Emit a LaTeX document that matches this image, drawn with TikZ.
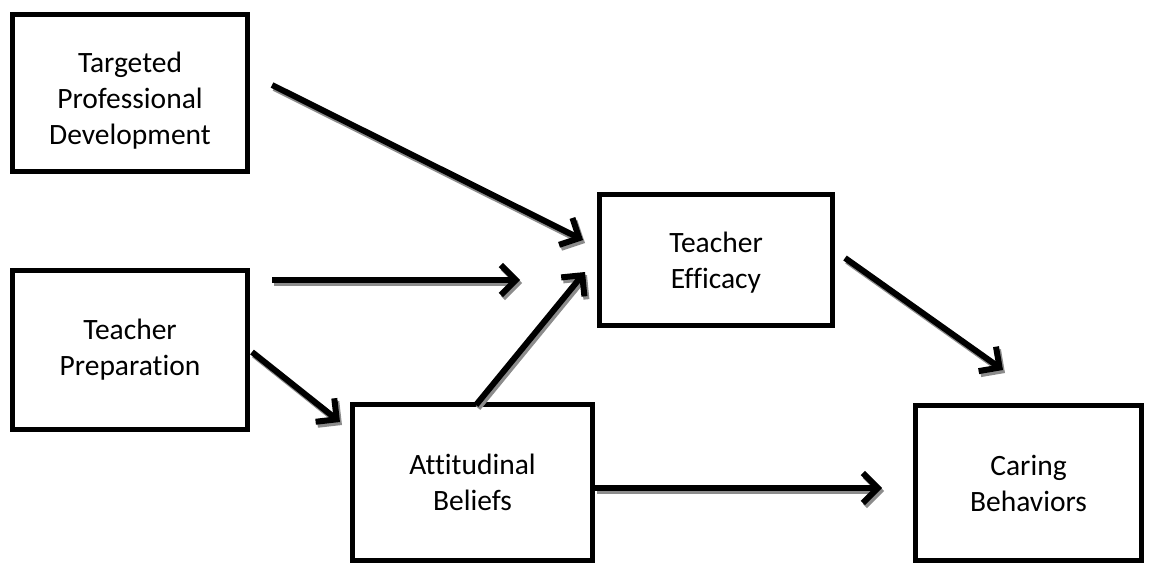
\documentclass[tikz,border=0pt]{standalone}
\usepackage{fontspec}
\setmainfont[Ligatures=NoCommon]{Carlito}
\usetikzlibrary{arrows.meta}
\tikzset{
  box/.style={draw=black, line width=5pt, align=center, inner sep=0pt,
    font=\fontsize{29.5}{36}\selectfont},
  arr/.style={line width=6pt, -{Straight Barb[length=15pt,width=30pt]}},
  arrshadow/.style={arr, draw=black!45, transform canvas={shift={(2pt,-3pt)}}},
}
\newcommand{\sharrow}[2]{%
  \draw[arrshadow] (#1) -- (#2);
  \draw[arr] (#1) -- (#2);}
\begin{document}
\begin{tikzpicture}[x=1pt,y=-1pt]
\useasboundingbox (0,0) rectangle (1154,565);
\node[box, minimum width=235pt, minimum height=157pt] (tpd) at (130,93) {\rule{0pt}{35pt}Targeted\\Professional\\Development};
\node[box, minimum width=235pt, minimum height=159pt] (tp) at (130,350) {Teacher\\Preparation};
\node[box, minimum width=240pt, minimum height=156pt] (ab) at (472.5,482.5) {Attitudinal\\Beliefs};
\node[box, minimum width=233pt, minimum height=131pt] (te) at (716,260) {\rule{0pt}{26pt}Teacher\\Efficacy};
\node[box, minimum width=226pt, minimum height=155pt] (cb) at (1028.5,483) {Caring\\Behaviors};
\coordinate (a1s) at (272,85);  \coordinate (a1e) at (583,240);
\coordinate (a2s) at (272,280); \coordinate (a2e) at (520,280);
\coordinate (a3s) at (252,352); \coordinate (a3e) at (340,422);
\coordinate (a4s) at (476,405); \coordinate (a4e) at (585,272);
\coordinate (a5s) at (845,258); \coordinate (a5e) at (1003,370);
\coordinate (a6s) at (595,488); \coordinate (a6e) at (882,488);
\sharrow{a1s}{a1e}
\sharrow{a2s}{a2e}
\sharrow{a3s}{a3e}
\sharrow{a4s}{a4e}
\sharrow{a5s}{a5e}
\sharrow{a6s}{a6e}
\end{tikzpicture}
\end{document}
